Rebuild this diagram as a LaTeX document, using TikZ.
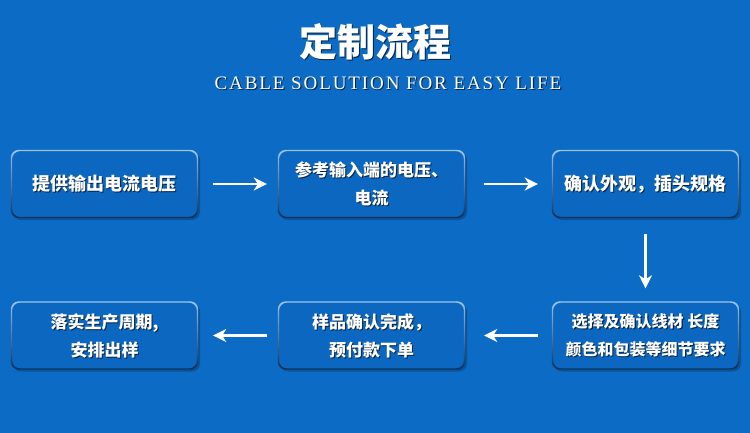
\documentclass[tikz,border=0pt]{standalone}
\usepackage{fontspec}
\newfontfamily\cjk{Noto Sans CJK SC}
\newfontfamily\subf{Liberation Serif}[LetterSpace=10]
\usetikzlibrary{arrows.meta,shadows}
\definecolor{bg}{HTML}{0C6BC4}
\definecolor{boxfill}{HTML}{0B67BF}
\definecolor{bordtop}{HTML}{9CC6EE}
\definecolor{bordbot}{HTML}{0B2F58}
\definecolor{shadowc}{HTML}{0A2442}
\tikzset{
  stepbox/.style={rectangle, rounded corners=8pt, minimum width=187pt, minimum height=68pt,
     inner sep=0pt, fill=boxfill,
     drop shadow={shadow xshift=2pt, shadow yshift=-2pt, opacity=.22, fill=black}},
  boxtext/.style={font=\cjk\bfseries\fontsize{17}{28}\selectfont, align=center, inner sep=0pt},
  arr/.style={draw=white, line width=2.6pt, -{Stealth[length=13pt,width=13pt,inset=4pt]}},
}
\newcommand\shtext[3]{%
  \node[#2, text=shadowc] at ([shift={(1.1,1.1)}]#1) {#3};
  \node[#2, text=white] at (#1) {#3};}
\newcommand\frameit[1]{%
  \path[top color=bordtop, bottom color=bordbot, even odd rule, rounded corners=8pt]
    (#1.north west) rectangle (#1.south east)
    ([shift={(1.3,1.3)}]#1.north west) rectangle ([shift={(-1.3,-1.3)}]#1.south east);}
\begin{document}
\begin{tikzpicture}[x=1pt,y=-1pt]
\useasboundingbox[fill=bg] (0,0) rectangle (750,433);
% title
\coordinate (tpos) at (375,42);
\shtext{tpos}{font=\cjk\bfseries\fontsize{38}{40}\selectfont, inner sep=0pt}{定制流程}
\coordinate (spos) at (388,83);
\shtext{spos}{font=\subf\fontsize{19}{20}\selectfont, inner sep=0pt}{CABLE SOLUTION FOR EASY LIFE}
% boxes
\node[stepbox] (b1) at (104.5,184) {};
\node[stepbox] (b2) at (371.5,184) {};
\node[stepbox] (b3) at (645.5,184) {};
\node[stepbox] (b4) at (645.5,335.5) {};
\node[stepbox] (b5) at (371.5,335.5) {};
\node[stepbox] (b6) at (104.5,335.5) {};
\foreach \b in {b1,b2,b3,b4,b5,b6} {\frameit{\b}}
% texts
\shtext{b1.center}{boxtext, font=\cjk\bfseries\fontsize{18}{28}\selectfont}{提供输出电流电压}
\shtext{b2.center}{boxtext}{参考输入端的电压、\\电流}
\shtext{b3.center}{boxtext, font=\cjk\bfseries\fontsize{18}{28}\selectfont}{确认外观，插头规格}
\shtext{b4.center}{boxtext, font=\cjk\bfseries\fontsize{16}{28}\selectfont}{选择及确认线材 长度\\颜色和包装等细节要求}
\shtext{b5.center}{boxtext}{样品确认完成，\\预付款下单}
\shtext{b6.center}{boxtext}{落实生产周期,\\安排出样}
% arrows
\draw[arr] ([xshift=15pt]b1.east) -- ([xshift=-11pt]b2.west);
\draw[arr] ([xshift=19pt]b2.east) -- ([xshift=-14pt]b3.west);
\draw[arr] ([yshift=-16pt]b3.south) -- ([yshift=13pt]b4.north);
\draw[arr] ([xshift=-14pt]b4.west) -- ([xshift=19pt]b5.east);
\draw[arr] ([xshift=-11pt]b5.west) -- ([xshift=15pt]b6.east);
\end{tikzpicture}
\end{document}
